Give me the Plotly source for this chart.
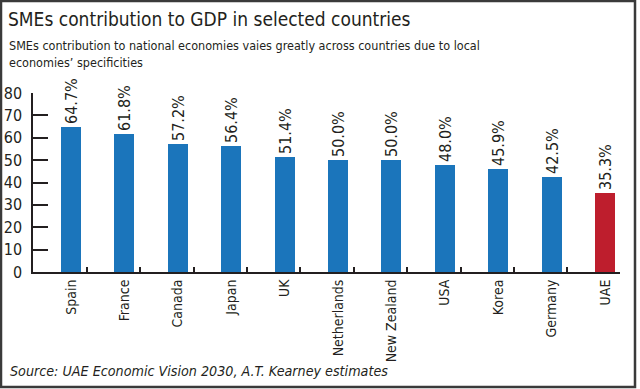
import plotly.graph_objects as go

countries = ["Spain", "France", "Canada", "Japan", "UK", "Netherlands",
             "New Zealand", "USA", "Korea", "Germany", "UAE"]
sme_share = [64.7, 61.8, 57.2, 56.4, 51.4, 50.0, 50.0, 48.0, 45.9, 42.5, 35.3]
highlight = "UAE"
y_ticks = [0, 10, 20, 30, 40, 50, 60, 70, 80]

BLUE = "#1B75BB"
RED = "#BE1E2D"
INK = "#231F20"
FONT = "DejaVu Sans Condensed, Liberation Sans Narrow, sans-serif"

W, H = 640, 389
L, R, T, B = 33, 20, 93, 117
PW, PH = W - L - R, H - T - B


def px(x):
    return (x - L) / PW


def py(y):
    return (H - B - y) / PH


xpos = list(range(len(countries)))
colors = [RED if c == highlight else BLUE for c in countries]
xr = [-0.712, 10.28]

fig = go.Figure()
fig.add_trace(go.Bar(
    x=xpos, y=sme_share, width=0.375,
    marker=dict(color=colors, line=dict(width=0)),
    texttemplate="%{y:.1f}%", textposition="outside", textangle=-90,
    textfont=dict(size=16, color=INK, family=FONT),
    cliponaxis=False, constraintext="none", showlegend=False,
    hoverinfo="skip",
))
# invisible copy on a second x axis so that its tick marks (between bars) are drawn
fig.add_trace(go.Bar(
    x=xpos, y=sme_share, width=0.375, xaxis="x2",
    marker=dict(color="rgba(0,0,0,0)", line=dict(width=0)),
    showlegend=False, hoverinfo="skip",
))

fig.update_layout(
    width=W, height=H,
    margin=dict(l=L, r=R, t=T, b=B, pad=0, autoexpand=False),
    paper_bgcolor="white", plot_bgcolor="white",
    font=dict(family=FONT, color=INK),
    bargap=0, barmode="overlay",
    xaxis=dict(
        range=xr, tickmode="array", tickvals=xpos, ticktext=countries,
        tickangle=-90, ticks="", showline=True, linecolor=INK, linewidth=2,
        showgrid=False, zeroline=False, tickfont=dict(size=14, color=INK),
        fixedrange=True, automargin=False,
    ),
    xaxis2=dict(
        overlaying="x", anchor="y", side="bottom", range=xr,
        tickmode="array", tickvals=[i + 0.294 for i in xpos],
        ticks="inside", ticklen=5, tickwidth=1.5, tickcolor=INK,
        showticklabels=False, showline=False, showgrid=False, zeroline=False,
        automargin=False, fixedrange=True,
    ),
    yaxis=dict(
        range=[0, 80], tickmode="array", tickvals=y_ticks,
        ticks="inside", ticklen=15, tickwidth=1.5, tickcolor=INK,
        showline=True, linecolor=INK, linewidth=1.5,
        showgrid=False, zeroline=False, tickfont=dict(size=16, color=INK),
        ticklabelstandoff=6, automargin=False, fixedrange=True,
    ),
    annotations=[
        dict(text="SMEs contribution to GDP in selected countries",
             xref="paper", yref="paper", x=px(6), y=py(19),
             xanchor="left", yanchor="middle", showarrow=False,
             font=dict(size=19, color=INK, family=FONT)),
        dict(text="SMEs contribution to national economies vaies greatly across countries due to local",
             xref="paper", yref="paper", x=px(7), y=py(45),
             xanchor="left", yanchor="middle", showarrow=False,
             font=dict(size=12.5, color=INK, family=FONT)),
        dict(text="economies\u2019 specificities",
             xref="paper", yref="paper", x=px(7), y=py(62),
             xanchor="left", yanchor="middle", showarrow=False,
             font=dict(size=12.5, color=INK, family=FONT)),
        dict(text="<i>Source: UAE Economic Vision 2030, A.T. Kearney estimates</i>",
             xref="paper", yref="paper", x=px(8), y=py(371),
             xanchor="left", yanchor="middle", showarrow=False,
             font=dict(size=14.2, color=INK, family=FONT)),
    ],
    shapes=[
        dict(type="rect", xref="paper", yref="paper",
             x0=px(1), x1=px(635), y0=py(387), y1=py(1),
             line=dict(color="#3a3a3a", width=2.5), fillcolor="rgba(0,0,0,0)",
             layer="above"),
    ],
)

fig.write_html(
    "out.html",
    config={"displayModeBar": False},
    post_script="document.body.style.margin='0px';document.body.style.overflow='hidden';",
)
